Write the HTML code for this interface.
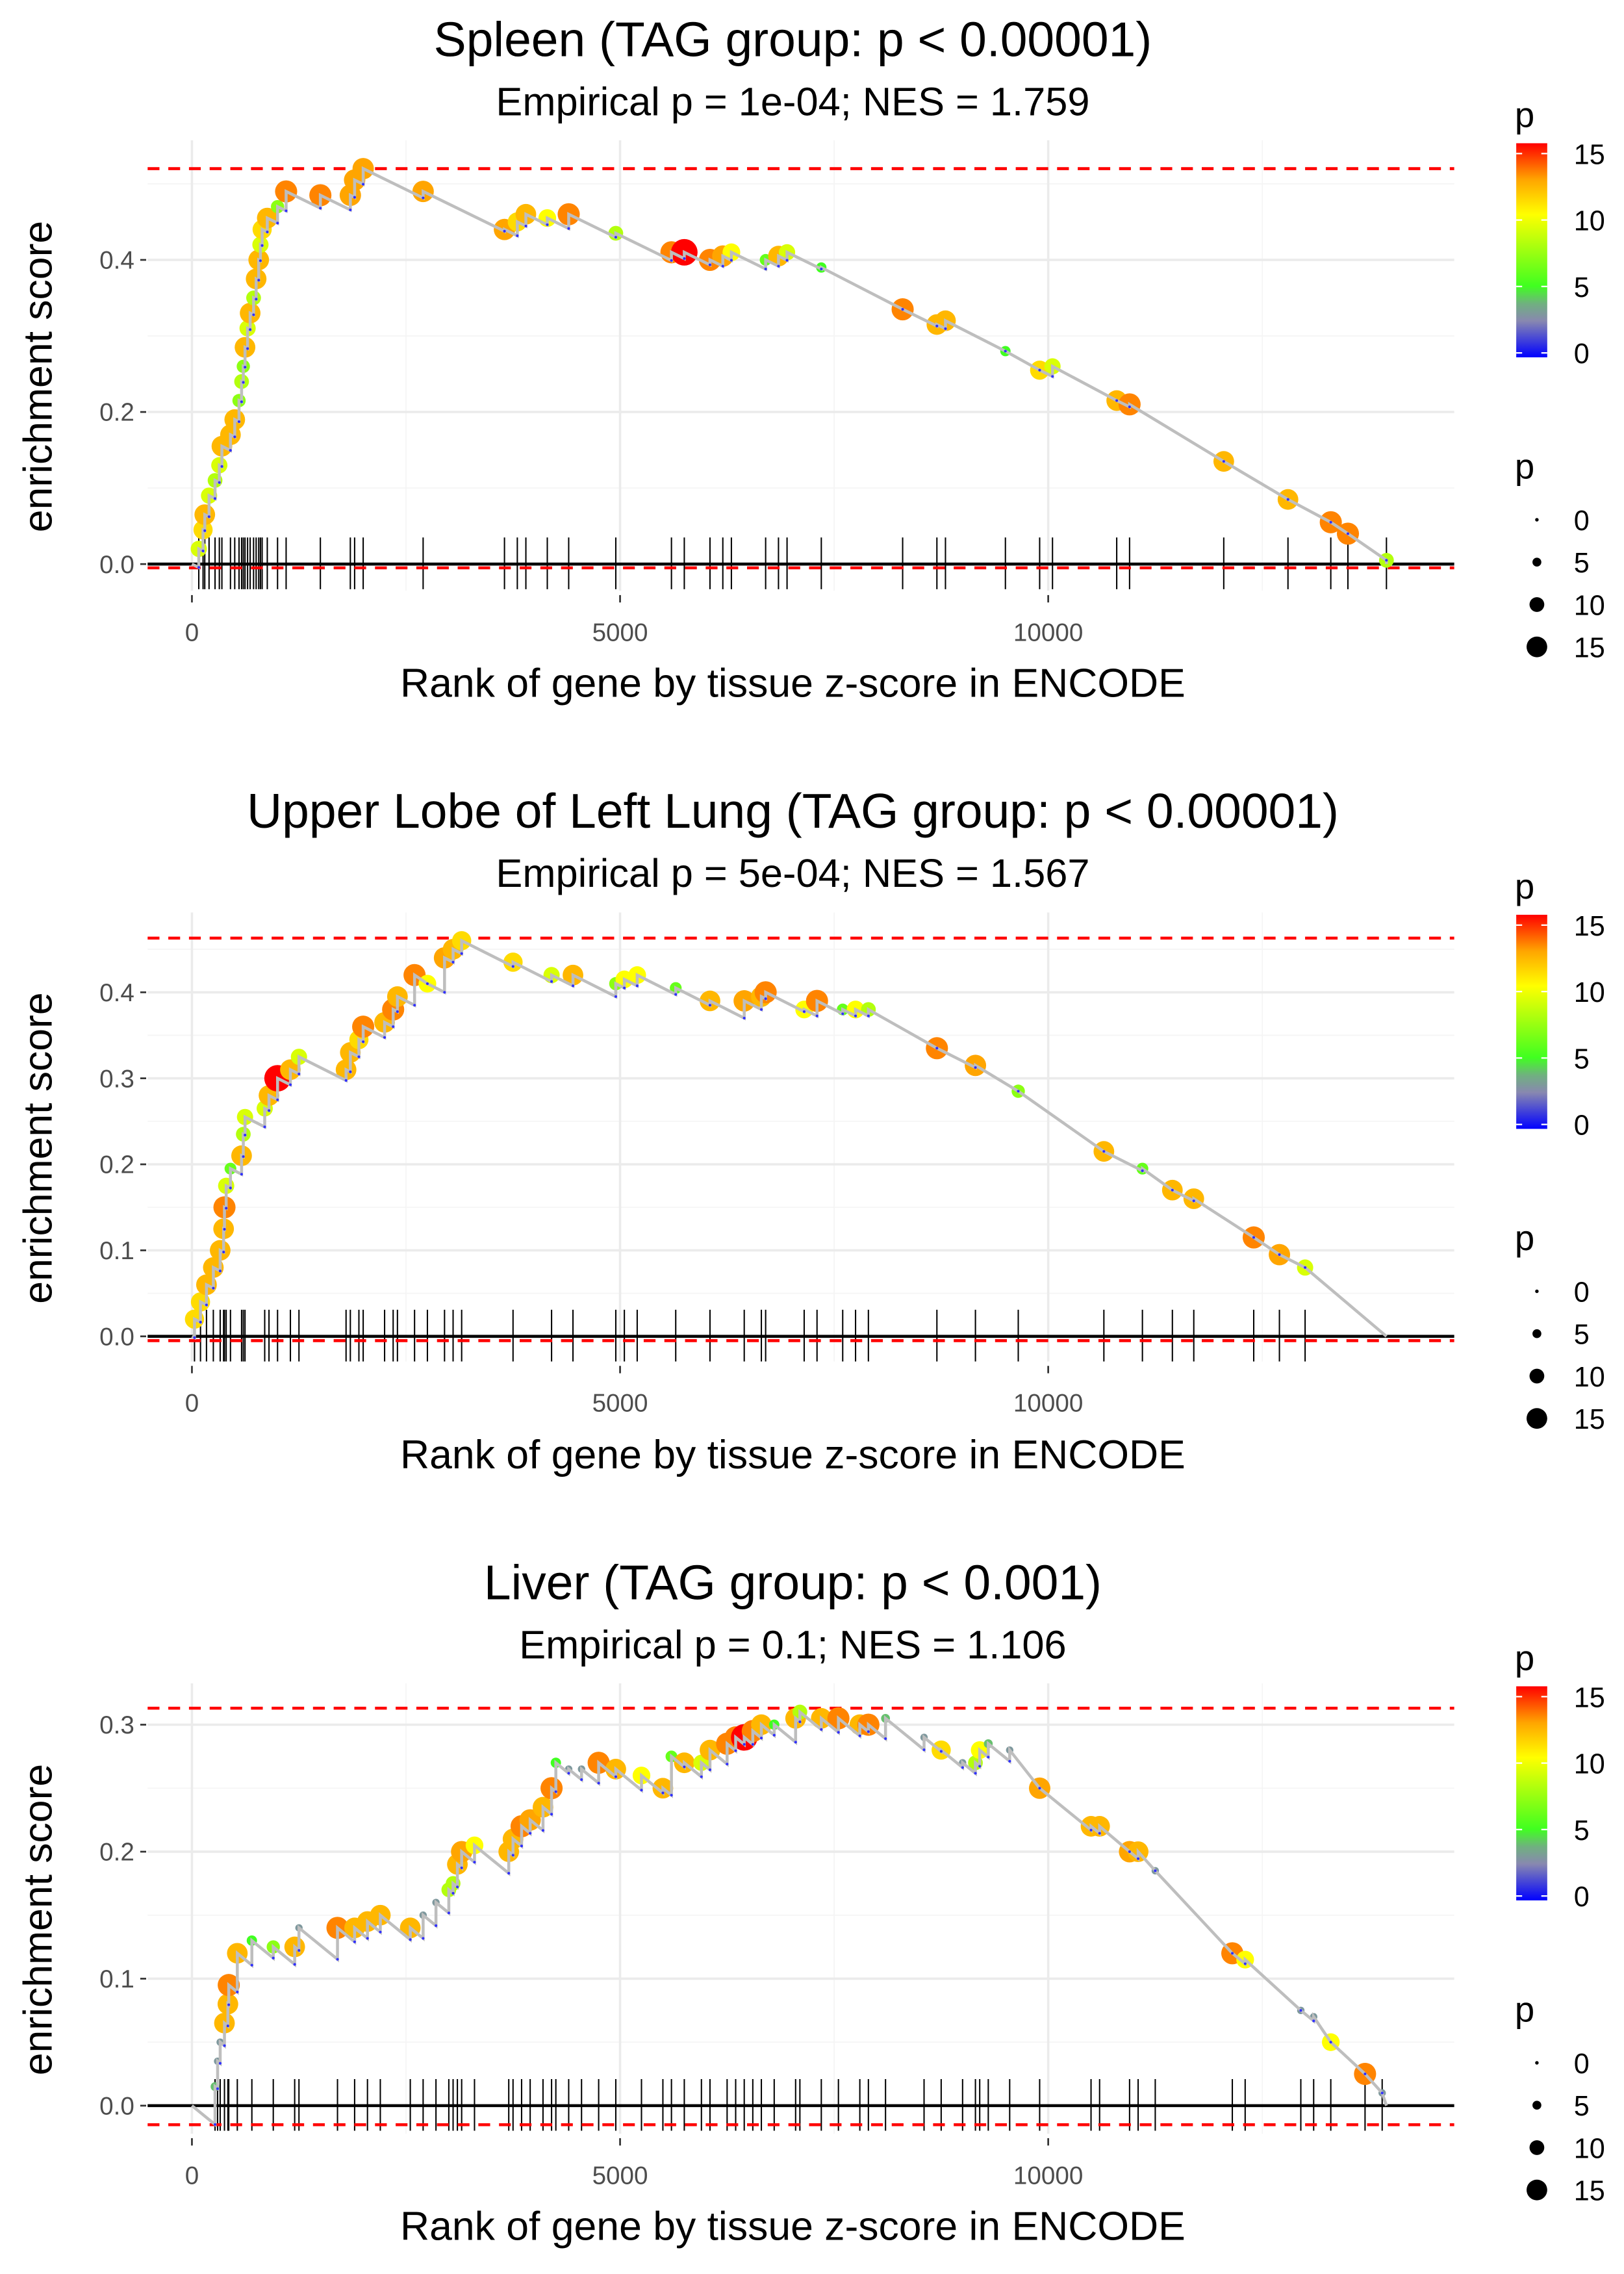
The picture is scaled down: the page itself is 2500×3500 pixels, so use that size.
<!DOCTYPE html>
<html><head><meta charset="utf-8"><style>
html,body{margin:0;padding:0;background:#fff;}
svg{display:block;font-family:"Liberation Sans",Arial,sans-serif;}
</style></head><body>
<svg id="chart" width="2500" height="3500" viewBox="0 0 1100 1540" preserveAspectRatio="none" xmlns="http://www.w3.org/2000/svg">
<defs>
<linearGradient id="cbar" x1="0" y1="1" x2="0" y2="0">
<stop offset="0" stop-color="#0000ff"/><stop offset="0.17" stop-color="#8888b0"/><stop offset="0.25" stop-color="#70b080"/><stop offset="0.333" stop-color="#40ff20"/><stop offset="0.667" stop-color="#ffff00"/><stop offset="0.83" stop-color="#ffa500"/><stop offset="1" stop-color="#ff0000"/>
</linearGradient>
</defs>
</svg>
<script>
// ---- data ----
const titles = ["Spleen (TAG group: p < 0.00001)","Upper Lobe of Left Lung (TAG group: p < 0.00001)","Liver (TAG group: p < 0.001)"];
const subtitles = ["Empirical p = 1e-04; NES = 1.759","Empirical p = 5e-04; NES = 1.567","Empirical p = 0.1; NES = 1.106"];
const xTicks = [0,5000,10000];
const xTickLabels = ["0","5000","10000"];
const yTicks1 = [0,0.2,0.4]; const yTickLabels1 = ["0.0","0.2","0.4"];
const yTicks2 = [0,0.1,0.2,0.3,0.4]; const yTickLabels2 = ["0.0","0.1","0.2","0.3","0.4"];
const yTicks3 = [0,0.1,0.2,0.3]; const yTickLabels3 = ["0.0","0.1","0.2","0.3"];
const maxES = [0.52,0.463,0.313];
const minES = [-0.005,-0.005,-0.015];
const slopes = [5.5e-5,5e-5,5.5e-5];
const endRank = 13950;

const ranks1 = [80,130,150,200,270,320,350,450,500,550,580,600,620,650,680,720,750,780,800,820,880,1000,1100,1500,1850,1900,2000,2700,3650,3800,3900,4150,4400,4950,5600,5750,6050,6200,6300,6700,6850,6950,7350,8300,8700,8800,9500,9900,10050,10800,10950,12050,12800,13300,13500,13950];
const es1 = [0.02,0.045,0.065,0.09,0.11,0.13,0.155,0.17,0.19,0.215,0.24,0.26,0.285,0.31,0.33,0.35,0.375,0.4,0.42,0.44,0.455,0.47,0.49,0.485,0.485,0.505,0.52,0.49,0.44,0.45,0.46,0.455,0.46,0.435,0.41,0.41,0.4,0.405,0.41,0.4,0.405,0.41,0.39,0.335,0.315,0.32,0.28,0.255,0.26,0.215,0.21,0.135,0.085,0.055,0.04,0.005];
const p1 = [9,11,12,9,8,9,12,12,12,7,8,7,12,9,12,8,12,12,9,11,12,7,13,13,12.5,12.5,12.5,12.5,12.5,11,12,10,13,8,13,16,13,12.5,10,6,12,9,5,13,12,12,5,11,9,12,13,12,12,13,13,8];

const ranks2 = [30,100,170,250,330,370,380,400,450,580,600,620,850,900,1000,1150,1250,1800,1850,1950,2000,2250,2350,2400,2600,2750,2950,3050,3150,3750,4200,4450,4950,5050,5200,5650,6050,6450,6650,6700,7150,7300,7600,7750,7900,8700,9150,9650,10650,11100,11450,11700,12400,12700,13000];
const es2 = [0.02,0.04,0.06,0.08,0.1,0.125,0.15,0.175,0.195,0.21,0.235,0.255,0.265,0.28,0.3,0.31,0.325,0.31,0.33,0.345,0.36,0.365,0.38,0.395,0.42,0.41,0.44,0.45,0.46,0.435,0.42,0.42,0.41,0.415,0.42,0.405,0.39,0.39,0.395,0.4,0.38,0.39,0.38,0.38,0.38,0.335,0.315,0.285,0.215,0.195,0.17,0.16,0.115,0.095,0.08];
const p2 = [11,11,12,12,12,12,13,9,6,12,8,9,9,12,16,12,9,12,12,11,13,12,13,12,13,10,12.5,12,11,11,9,12,7,10,10,6,12,12.5,12,13,10,13,6,10,8,13,12.5,7,12,6,12,12,13,12.5,9];

const ranks3 = [270,300,330,380,420,430,530,700,950,1200,1250,1700,1900,2050,2200,2550,2700,2850,3000,3050,3100,3150,3300,3700,3750,3850,3950,4100,4200,4250,4400,4550,4750,4950,5250,5500,5600,5750,5950,6050,6250,6350,6450,6550,6650,6800,7050,7100,7350,7550,7800,7900,8100,8550,8750,9000,9150,9200,9300,9550,9900,10500,10600,10950,11050,11250,12150,12300,12950,13100,13300,13700,13900];
const es3 = [0.015,0.035,0.05,0.065,0.08,0.095,0.12,0.13,0.125,0.125,0.14,0.14,0.14,0.145,0.15,0.14,0.15,0.16,0.17,0.175,0.19,0.2,0.205,0.2,0.21,0.22,0.225,0.235,0.25,0.27,0.265,0.265,0.27,0.265,0.26,0.25,0.275,0.27,0.27,0.28,0.285,0.29,0.29,0.295,0.3,0.3,0.305,0.31,0.305,0.305,0.3,0.3,0.305,0.29,0.28,0.27,0.27,0.28,0.285,0.28,0.25,0.22,0.22,0.2,0.2,0.185,0.12,0.115,0.075,0.07,0.05,0.025,0.01];
const p3 = [4,3,3,12,12,13,12,5,7,12,3,13,12,12,12,12,3,3,8,8,12,12.5,10,12,12,13,12.5,12,13,5,3,3,13,12,10,12,6,12,9,12,13,13,16,13,12,5,12,8,12,13,12,13,4,3,11,3,8,10,4,3,12.5,12,12,12.5,12,3,13,10,3,3,10,13,3];

// ---- layout ----
const svg = document.getElementById('chart');
const NS = 'http://www.w3.org/2000/svg';
function mk(tag, attrs, parent){const e=document.createElementNS(NS,tag);for(const k in attrs)e.setAttribute(k,attrs[k]);(parent||svg).appendChild(e);return e;}
const xs = r => 130 + r*0.058;
const panels = [
 {ranks:ranks1,es:es1,p:p1,yt:yTicks1,ytl:yTickLabels1,zero:382,ppu:515,top:95,bot:400,minor:[0.1,0.3,0.5]},
 {ranks:ranks2,es:es2,p:p2,yt:yTicks2,ytl:yTickLabels2,zero:905,ppu:582.5,top:618,bot:922,minor:[0.05,0.15,0.25,0.35,0.45]},
 {ranks:ranks3,es:es3,p:p3,yt:yTicks3,ytl:yTickLabels3,zero:1426,ppu:860,top:1140,bot:1445,minor:[0.05,0.15,0.25]}
];
function col(p){
  const st=[[0,[0,0,255]],[2.5,[136,136,176]],[3.75,[112,176,128]],[5,[64,255,32]],[10,[255,255,0]],[12.5,[255,165,0]],[15,[255,0,0]]];
  p=Math.max(0,Math.min(15,p));
  for(let i=1;i<st.length;i++){if(p<=st[i][0]){const a=st[i-1],b=st[i],t=(p-a[0])/(b[0]-a[0]);return 'rgb('+a[1].map((v,j)=>Math.round(v+(b[1][j]-v)*t)).join(',')+')';}}
  return 'rgb(255,0,0)';
}
const rad = p => 1 + Math.max(0,p)*0.5;

panels.forEach((P,k)=>{
  const off = k*522.5;
  const ys = v => P.zero - v*P.ppu;
  const g = mk('g',{});
  
  
  P.minor.forEach(v=>{if(ys(v)>P.top){const l=mk('line',{x1:100,x2:985,y1:ys(v),y2:ys(v),stroke:'#f5f5f5','stroke-width':0.8},g);}});
  [2500,7500,12500].forEach(v=>{const l=mk('line',{x1:xs(v),x2:xs(v),y1:P.top,y2:P.bot,stroke:'#f5f5f5','stroke-width':0.8},g);});
  P.yt.forEach((v,i)=>{
    const l=mk('line',{x1:100,x2:985,y1:ys(v),y2:ys(v),stroke:'#ebebeb','stroke-width':1.6},g);
    
    const tk=mk('line',{x1:95,x2:99,y1:ys(v),y2:ys(v),stroke:'#333','stroke-width':1.2},g);
    
    const t=mk('text',{x:91,y:ys(v)+6,'text-anchor':'end','font-size':17,fill:'#4d4d4d'},g);t.textContent=P.ytl[i];
    
  });
  xTicks.forEach((v,i)=>{
    const l=mk('line',{x1:xs(v),x2:xs(v),y1:P.top,y2:P.bot,stroke:'#ebebeb','stroke-width':1.6},g);
    
    const tk=mk('line',{x1:xs(v),x2:xs(v),y1:P.bot+3,y2:P.bot+8,stroke:'#333','stroke-width':1.2},g);
    
    const t=mk('text',{x:xs(v),y:P.bot+34,'text-anchor':'middle','font-size':17,fill:'#4d4d4d'},g);t.textContent=xTickLabels[i];
    
  });
  P.ranks.forEach(r=>{const l=mk('line',{x1:xs(r),x2:xs(r),y1:P.zero-18,y2:P.zero+17,stroke:'#000','stroke-width':0.9},g);});
  const z=mk('line',{x1:100,x2:985,y1:P.zero,y2:P.zero,stroke:'#000','stroke-width':2},g);
  [maxES[k],minES[k]].forEach(v=>{const l=mk('line',{x1:100,x2:985,y1:ys(v),y2:ys(v),stroke:'#ff0000','stroke-width':2,'stroke-dasharray':'8,6'},g);});
  P.ranks.forEach((r,i)=>{const c=mk('circle',{cx:xs(r),cy:ys(P.es[i]),r:rad(P.p[i]),fill:col(P.p[i])},g);});
  let prevR=0, prevE=0; let d='M'+xs(0)+','+ys(0);
  const troughs=[];
  P.ranks.forEach((r,i)=>{
    let tr=prevE - slopes[k]*(r-prevR);
    if(tr>P.es[i]) tr=P.es[i];
    d+=' L'+xs(r).toFixed(2)+','+ys(tr).toFixed(2)+' L'+xs(r).toFixed(2)+','+ys(P.es[i]).toFixed(2);
    troughs.push([r,tr]);
    prevR=r; prevE=P.es[i];
  });
  d+=' L'+xs(endRank)+','+ys(0);
  const pth=mk('path',{d:d,fill:'none',stroke:'#bebebe','stroke-width':2},g);
  
  troughs.forEach(t=>{const c=mk('circle',{cx:xs(t[0]),cy:ys(t[1]),r:0.9,fill:'#3030ff'},g);});
  const t1=mk('text',{x:537,y:38+off,'text-anchor':'middle','font-size':33,fill:'#000'},g);t1.textContent=titles[k];
  const t2=mk('text',{x:537,y:78+off,'text-anchor':'middle','font-size':27,fill:'#000'},g);t2.textContent=subtitles[k];
  const xt=mk('text',{x:537,y:472+off,'text-anchor':'middle','font-size':27.5,fill:'#000'},g);xt.textContent='Rank of gene by tissue z-score in ENCODE';
  const yt=mk('text',{x:0,y:0,'text-anchor':'middle','font-size':27.5,fill:'#000',transform:'translate(35,'+(255+off)+') rotate(-90)'},g);yt.textContent='enrichment score';
  const ct=mk('text',{x:1026,y:86+off,'font-size':24,fill:'#000'},g);ct.textContent='p';
  const cb=mk('rect',{x:1027,y:97+off,width:21,height:145,fill:'url(#cbar)'},g);
  [0,5,10,15].forEach(v=>{
    const y=239-v*9+off;
    mk('line',{x1:1027,x2:1031,y1:y,y2:y,stroke:'#fff','stroke-width':1},g);
    mk('line',{x1:1044,x2:1048,y1:y,y2:y,stroke:'#fff','stroke-width':1},g);
    const t=mk('text',{x:1066,y:y+7,'font-size':19,fill:'#000'},g);t.textContent=String(v);
  });
  const st=mk('text',{x:1026,y:324+off,'font-size':24,fill:'#000'},g);st.textContent='p';
  [0,5,10,15].forEach((v,i)=>{
    const y=352+i*28.7+off;
    const c=mk('circle',{cx:1041,cy:y,r:(v===0?1.2:1+v*0.4),fill:'#000'},g);
    const t=mk('text',{x:1066,y:y+7,'font-size':19,fill:'#000'},g);t.textContent=String(v);
  });
});
</script>
</body></html>
